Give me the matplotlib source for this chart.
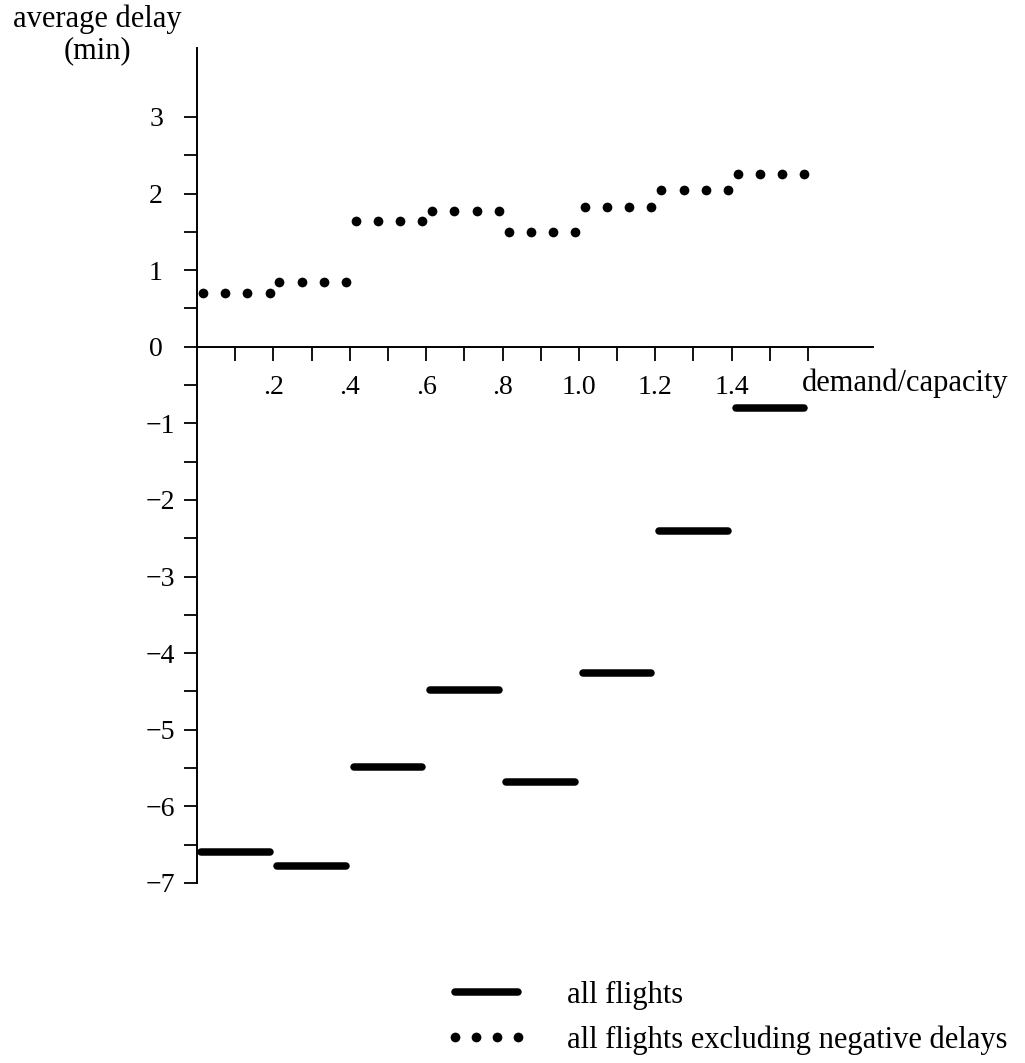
import numpy as np
import matplotlib
matplotlib.use("Agg")
import matplotlib.pyplot as plt
from matplotlib.lines import Line2D
from matplotlib.transforms import ScaledTranslation

plt.rcParams['font.family'] = ['Liberation Serif', 'DejaVu Serif']

# demand/capacity bins, each 0.2 wide
bin_edges = [0.0, 0.2, 0.4, 0.6, 0.8, 1.0, 1.2, 1.4, 1.6]
all_flights = [-6.6, -6.78, -5.48, -4.48, -5.68, -4.26, -2.4, -0.8]
excl_negative = [0.7, 0.84, 1.64, 1.77, 1.5, 1.83, 2.04, 2.26]

x_ticks = [0.1, 0.2, 0.3, 0.4, 0.5, 0.6, 0.7, 0.8, 0.9, 1.0, 1.1, 1.2, 1.3, 1.4, 1.5, 1.6]
x_labels = ['', '.2', '', '.4', '', '.6', '', '.8', '', '1.0', '', '1.2', '', '1.4', '', '']
y_major = [-7, -6, -5, -4, -3, -2, -1, 0, 1, 2, 3]
y_labels = ['\u22127', '\u22126', '\u22125', '\u22124', '\u22123', '\u22122', '\u22121', '0', '1', '2', '3']
y_minor = [-6.5, -5.5, -4.5, -3.5, -2.5, -1.5, -0.5, 0.5, 1.5, 2.5]

fs = 22
tick_fs = 20

fig = plt.figure(figsize=(10.25, 10.63), dpi=100)
ax = fig.add_axes([197 / 1025, 1 - 883 / 1063, 676 / 1025, 835 / 1063])

for i in range(len(all_flights)):
    x0, x1 = bin_edges[i], bin_edges[i + 1]
    ax.plot([x0 + 0.01, x1 - 0.01], [all_flights[i]] * 2, color='black',
            lw=5.4, solid_capstyle='round')
    xs = np.linspace(x0 + 0.016, x1 - 0.01, 4)
    ax.plot(xs, [excl_negative[i]] * 4, 'o', color='black', ms=7, mew=0)

ax.set_xlim(0, 1.77)
ax.set_ylim(-7, 3.9)

ax.spines['top'].set_visible(False)
ax.spines['right'].set_visible(False)
ax.spines['bottom'].set_position(('data', 0))
ax.spines['left'].set_linewidth(1.4)
ax.spines['bottom'].set_linewidth(1.4)

ax.set_xticks(x_ticks)
ax.set_xticklabels(x_labels, fontsize=tick_fs)
ax.tick_params(axis='x', direction='out', length=10, width=1.3, pad=10)

ax.set_yticks(y_major)
ax.set_yticklabels(y_labels, fontsize=tick_fs)
ax.set_yticks(y_minor, minor=True)
ax.tick_params(axis='y', which='both', direction='out', length=9.5, width=1.3, pad=15)
# negative labels sit a bit closer to the axis in the original
shift = ScaledTranslation(9 / 72, 0, fig.dpi_scale_trans)
for val, lab in zip(y_major, ax.get_yticklabels()):
    if val < 0:
        lab.set_transform(lab.get_transform() + shift)

ax.text(1.583, -0.48, 'demand/capacity', fontsize=fs, ha='left', va='center')
fig.text(97 / 1025, 1 - 35 / 1063, 'average delay\n(min)', fontsize=fs,
         ha='center', va='center', multialignment='center', linespacing=1.1)

handles = [
    Line2D([], [], color='black', lw=5.4, solid_capstyle='round'),
    Line2D([], [], color='black', ls='none', marker='o', ms=7, mew=0),
]
fig.legend(handles, ['all flights', 'all flights excluding negative delays'],
           loc='upper left', bbox_to_anchor=(446 / 1025, 1 - 981 / 1063),
           frameon=False, fontsize=fs, numpoints=4, handlelength=2.65,
           handletextpad=1.3, labelspacing=0.5, borderpad=0, borderaxespad=0)

fig.savefig('out.png', dpi=100)
